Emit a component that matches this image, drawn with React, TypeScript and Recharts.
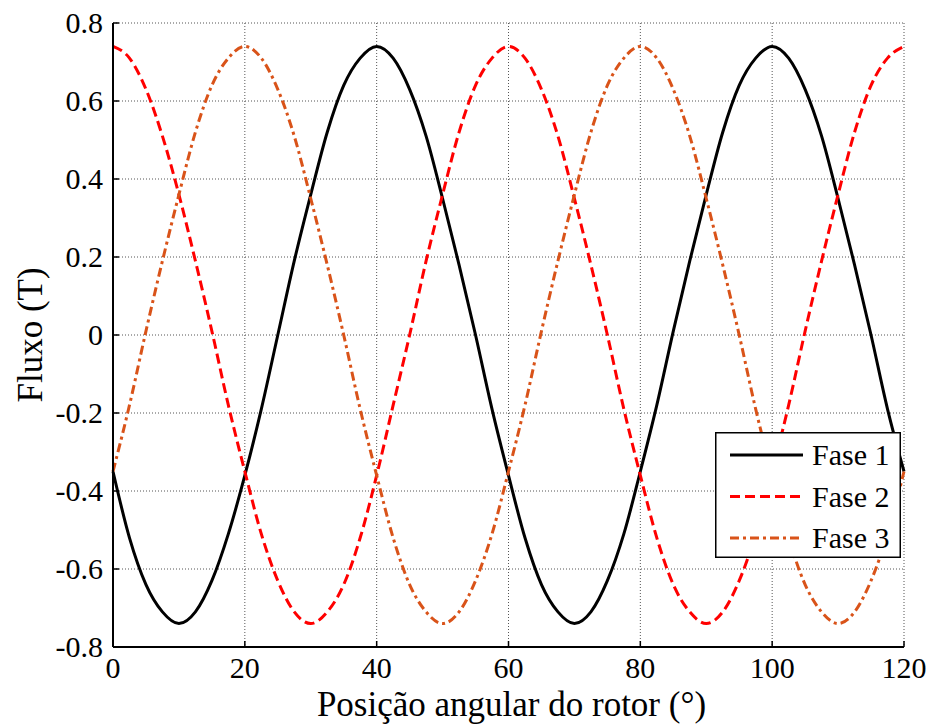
import React from "react";
import { LineChart, Line, XAxis, YAxis, CartesianGrid, Legend } from "recharts";

// rotor angle (degrees)
const angles = [
  0, 2.5, 5, 7.5, 10, 12.5, 15, 17.5, 20, 22.5, 25, 27.5, 30, 32.5, 35, 37.5,
  40, 42.5, 45, 47.5, 50, 52.5, 55, 57.5, 60, 62.5, 65, 67.5, 70, 72.5, 75, 77.5,
  80, 82.5, 85, 87.5, 90, 92.5, 95, 97.5, 100, 102.5, 105, 107.5, 110, 112.5, 115, 117.5, 120,
];

const fase1 = [
  -0.35, -0.52, -0.64, -0.71, -0.74, -0.71, -0.63, -0.51, -0.36, -0.19, 0.0, 0.19, 0.36, 0.52, 0.64, 0.71,
  0.74, 0.71, 0.63, 0.51, 0.35, 0.18, 0.0, -0.19, -0.36, -0.52, -0.64, -0.71, -0.74, -0.71, -0.63, -0.51,
  -0.35, -0.18, 0.01, 0.19, 0.36, 0.52, 0.64, 0.71, 0.74, 0.71, 0.63, 0.51, 0.35, 0.18, 0.0, -0.19, -0.35,
];

const fase2 = [
  0.74, 0.71, 0.63, 0.51, 0.36, 0.19, 0.01, -0.18, -0.35, -0.51, -0.63, -0.71, -0.74, -0.71, -0.64, -0.52,
  -0.36, -0.18, 0.0, 0.19, 0.36, 0.52, 0.64, 0.71, 0.74, 0.71, 0.63, 0.51, 0.35, 0.18, 0.0, -0.19,
  -0.36, -0.52, -0.64, -0.71, -0.74, -0.71, -0.63, -0.51, -0.35, -0.18, 0.01, 0.19, 0.36, 0.52, 0.64, 0.71, 0.74,
];

const fase3 = [
  -0.35, -0.18, 0.01, 0.19, 0.36, 0.52, 0.64, 0.71, 0.74, 0.71, 0.63, 0.51, 0.35, 0.18, 0.0, -0.19,
  -0.36, -0.52, -0.64, -0.71, -0.74, -0.71, -0.63, -0.51, -0.35, -0.18, 0.01, 0.19, 0.36, 0.52, 0.64, 0.71,
  0.74, 0.71, 0.63, 0.51, 0.35, 0.18, 0.0, -0.19, -0.36, -0.52, -0.64, -0.71, -0.74, -0.71, -0.63, -0.51, -0.35,
];

const xTicks = [0, 20, 40, 60, 80, 100, 120];
const yTicks = [-0.8, -0.6, -0.4, -0.2, 0, 0.2, 0.4, 0.6, 0.8];

const series = [
  { key: "f1", name: "Fase 1", color: "#000000", dash: undefined },
  { key: "f2", name: "Fase 2", color: "#ff0000", dash: "10 5" },
  { key: "f3", name: "Fase 3", color: "#d95319", dash: "9 4 3 4" },
];

const data = angles.map((a, i) => ({ a, f1: fase1[i], f2: fase2[i], f3: fase3[i] }));

const FONT = '"Liberation Serif", "DejaVu Serif", Times, serif';

const fmtY = (v: number) => (v === 0 ? "0" : v.toFixed(1));

const BottomTick = ({ x, y, payload }: any) => (
  <g>
    <line x1={x} x2={x} y1={y} y2={y - 6} stroke="#000" strokeWidth={1.5} />
    <text x={x} y={y + 31} textAnchor="middle" fontSize={30} fill="#000">
      {payload.value}
    </text>
  </g>
);

const LeftTick = ({ x, y, payload }: any) => (
  <g>
    <line x1={x} x2={x + 6} y1={y} y2={y} stroke="#000" strokeWidth={1.5} />
    <text x={x - 10} y={y + 10} textAnchor="end" fontSize={30} fill="#000">
      {fmtY(payload.value)}
    </text>
  </g>
);

const TopTick = ({ x, y }: any) => <line x1={x} x2={x} y1={y} y2={y + 6} stroke="#000" strokeWidth={1.5} />;
const RightTick = ({ x, y }: any) => <line x1={x} x2={x - 6} y1={y} y2={y} stroke="#000" strokeWidth={1.5} />;

const XTitle = ({ viewBox }: any) => (
  <text x={viewBox.x + viewBox.width / 2 + 3} y={716} textAnchor="middle" fontSize={35} fill="#000">
    Posição angular do rotor (°)
  </text>
);

const YTitle = ({ viewBox }: any) => {
  const cy = viewBox.y + viewBox.height / 2;
  return (
    <text x={42} y={cy} transform={`rotate(-90, 42, ${cy})`} textAnchor="middle" fontSize={35} fill="#000">
      Fluxo (T)
    </text>
  );
};

const LegendBox = () => (
  <svg width={186} height={126} style={{ display: "block", fontFamily: FONT }}>
    <rect x={0.75} y={0.75} width={184.5} height={124.5} fill="#fff" stroke="#000" strokeWidth={1.5} />
    {series.map((s, i) => {
      const cy = 23 + i * 41.5;
      return (
        <g key={s.key}>
          <line x1={15} x2={88} y1={cy} y2={cy} stroke={s.color} strokeWidth={3} strokeDasharray={s.dash} />
          <text x={97} y={cy + 10} fontSize={30} fill="#000">
            {s.name}
          </text>
        </g>
      );
    })}
  </svg>
);

export default function App() {
  return (
    <div style={{ position: "absolute", left: 0, top: 0, background: "#fff", fontFamily: FONT }}>
      <LineChart
        width={932}
        height={726}
        data={data}
        margin={{ top: 23, right: 28, bottom: 0, left: 0 }}
        style={{ fontFamily: FONT }}
      >
        <CartesianGrid stroke="#555" strokeDasharray="1 2" strokeWidth={1} />
        <XAxis
          dataKey="a"
          type="number"
          domain={[0, 120]}
          ticks={xTicks}
          height={79}
          tickSize={0}
          tickMargin={0}
          tickLine={false}
          tick={<BottomTick />}
          axisLine={{ stroke: "#000", strokeWidth: 2 }}
          label={<XTitle />}
        />
        <XAxis
          xAxisId="top"
          orientation="top"
          dataKey="a"
          type="number"
          domain={[0, 120]}
          ticks={xTicks}
          height={0}
          tickSize={0}
          tickMargin={0}
          tickLine={false}
          tick={<TopTick />}
          axisLine={{ stroke: "#000", strokeWidth: 2 }}
        />
        <YAxis
          type="number"
          domain={[-0.8, 0.8]}
          ticks={yTicks}
          width={113}
          tickSize={0}
          tickMargin={0}
          tickLine={false}
          tick={<LeftTick />}
          axisLine={{ stroke: "#000", strokeWidth: 2 }}
          label={<YTitle />}
        />
        <YAxis
          yAxisId="right"
          orientation="right"
          type="number"
          domain={[-0.8, 0.8]}
          ticks={yTicks}
          width={0}
          tickSize={0}
          tickMargin={0}
          tickLine={false}
          tick={<RightTick />}
          axisLine={{ stroke: "#000", strokeWidth: 2 }}
        />
        {series.map((s) => (
          <Line
            key={s.key}
            dataKey={s.key}
            name={s.name}
            type="monotone"
            stroke={s.color}
            strokeWidth={3}
            strokeDasharray={s.dash}
            dot={false}
            activeDot={false}
            isAnimationActive={false}
          />
        ))}
        <Legend
          layout="vertical"
          align="center"
          verticalAlign="middle"
          content={<LegendBox />}
          wrapperStyle={{ left: 715, top: 432, width: 186, height: 126 }}
        />
      </LineChart>
    </div>
  );
}
